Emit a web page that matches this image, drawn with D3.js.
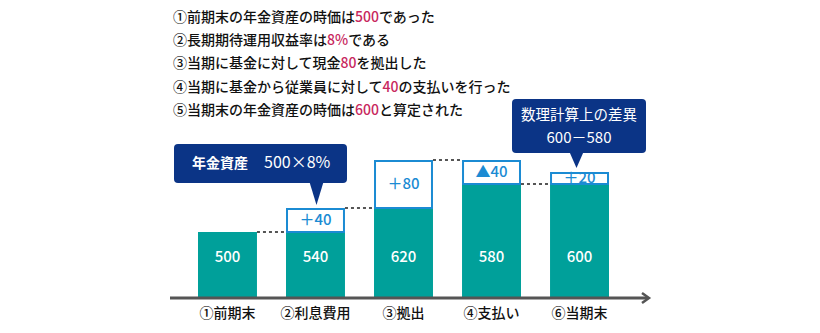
<!DOCTYPE html>
<html><head><meta charset="utf-8">
<script src="https://cdn.jsdelivr.net/npm/d3@7"></script>
<style>
body{margin:0;background:#fff;}
svg{display:block;font-family:"Noto Sans CJK JP","Noto Sans",sans-serif;}
</style></head>
<body>
<svg id="c" width="820" height="333"></svg>
<script>
// ---- data ----
const categories = ["①前期末","②利息費用","③拠出","④支払い","⑥当期末"];
const baseValues = [500, 500, 540, 580, 580];   // teal part top
const totalValues = [500, 540, 620, 620, 600];  // box top
const barLabels = ["500","540","620","580","600"];
const deltaLabels = ["", "＋40", "＋80", "▲40", "＋20"];
const connectorLevels = [500, 540, 620, 580];
const notes = [
  [["①前期末の年金資産の時価は",0],["500",1],["であった",0]],
  [["②長期期待運用収益率は",0],["8%",1],["である",0]],
  [["③当期に基金に対して現金",0],["80",1],["を拠出した",0]],
  [["④当期に基金から従業員に対して",0],["40",1],["の支払いを行った",0]],
  [["⑤当期末の年金資産の時価は",0],["600",1],["と算定された",0]]
];
const callout1 = {bold:"年金資産", text:"500×8%", bar:1};
const callout2 = {lines:["数理計算上の差異","600－580"], bar:4};

// ---- drawing ----
const svg = d3.select("#c");
const teal = "#00a09a", blue = "#1b8bd3", navy = "#0b3486", red = "#c8285e", dark = "#555";

const x = d3.scaleBand().domain(categories).range([198, 609]).paddingInner(0.33).paddingOuter(0);
const y = d3.scaleLinear().domain([390, 620]).range([298, 160]);

// notes
notes.forEach((parts, i) => {
  const t = svg.append("text").attr("x", 173).attr("y", 22 + i * 23.2)
    .attr("font-size", 14).attr("font-weight", 500).attr("fill", "#111");
  parts.forEach(p => t.append("tspan").text(p[0]).attr("fill", p[1] ? red : "#111"));
});

// connectors
connectorLevels.forEach((v, i) => {
  svg.append("line")
    .attr("x1", x(categories[i]) + x.bandwidth()).attr("x2", x(categories[i + 1]))
    .attr("y1", y(v)).attr("y2", y(v))
    .attr("stroke", dark).attr("stroke-width", 2).attr("stroke-dasharray", "3,3");
});

// bars
categories.forEach((c, i) => {
  const bx = x(c), bw = x.bandwidth();
  svg.append("rect").attr("x", bx).attr("y", y(baseValues[i]))
    .attr("width", bw).attr("height", y.range()[0] - y(baseValues[i])).attr("fill", teal);
  if (totalValues[i] !== baseValues[i]) {
    const top = Math.max(totalValues[i], baseValues[i]);
    svg.append("rect").attr("x", bx + 1).attr("y", y(top) + 1)
      .attr("width", bw - 2).attr("height", y(baseValues[i]) - y(top) - 1)
      .attr("fill", "#fff").attr("stroke", blue).attr("stroke-width", 2);
    svg.append("text").attr("x", bx + bw / 2).attr("y", (y(top) + y(baseValues[i])) / 2 + 1)
      .attr("text-anchor", "middle").attr("dominant-baseline", "middle")
      .attr("font-size", 15).attr("font-weight", 500).attr("fill", blue).text(deltaLabels[i]);
  }
  svg.append("text").attr("x", bx + bw / 2).attr("y", 258)
    .attr("text-anchor", "middle").attr("dominant-baseline", "middle")
    .attr("font-size", 15).attr("font-weight", 500).attr("fill", "#fff").text(barLabels[i]);
  svg.append("text").attr("x", bx + bw / 2).attr("y", 314)
    .attr("text-anchor", "middle").attr("dominant-baseline", "middle")
    .attr("font-size", 14).attr("font-weight", 500).attr("fill", "#111").text(c);
});

// axis with arrow
svg.append("line").attr("x1", 170).attr("x2", 648).attr("y1", 298).attr("y2", 298)
  .attr("stroke", dark).attr("stroke-width", 3);
svg.append("path").attr("d", "M642,293 L649,298 L642,303")
  .attr("fill", "none").attr("stroke", dark).attr("stroke-width", 2.5);

// callout 1
{
  const c = categories[callout1.bar];
  const tipX = x(c) + x.bandwidth() / 2 + 1, tipY = y(totalValues[callout1.bar]) - 3;
  const g = svg.append("g");
  g.append("rect").attr("x", 174).attr("y", 144).attr("width", 173).attr("height", 39)
    .attr("rx", 4).attr("fill", navy);
  g.append("path").attr("d", `M${tipX - 7},182 L${tipX + 7},182 L${tipX},${tipY}Z`).attr("fill", navy);
  const t = g.append("text").attr("x", 192).attr("y", 164).attr("dominant-baseline", "middle")
    .attr("fill", "#fff").attr("font-size", 14);
  t.append("tspan").attr("font-weight", "bold").text(callout1.bold);
  t.append("tspan").attr("x", 264).attr("font-size", 16).text(callout1.text);
}
// callout 2
{
  const c = categories[callout2.bar];
  const tipX = x(c) + x.bandwidth() / 2 - 3, tipY = y(totalValues[callout2.bar]) - 4;
  const g = svg.append("g");
  g.append("rect").attr("x", 512).attr("y", 99).attr("width", 134).attr("height", 54)
    .attr("rx", 4).attr("fill", navy);
  g.append("path").attr("d", `M${tipX - 7},152 L${tipX + 7},152 L${tipX},${tipY}Z`).attr("fill", navy);
  callout2.lines.forEach((l, i) => {
    g.append("text").attr("x", 579).attr("y", 116 + i * 23).attr("text-anchor", "middle")
      .attr("dominant-baseline", "middle").attr("fill", "#fff")
      .attr("font-size", i === 0 ? 14.5 : 15).text(l);
  });
}
</script>
</body></html>
